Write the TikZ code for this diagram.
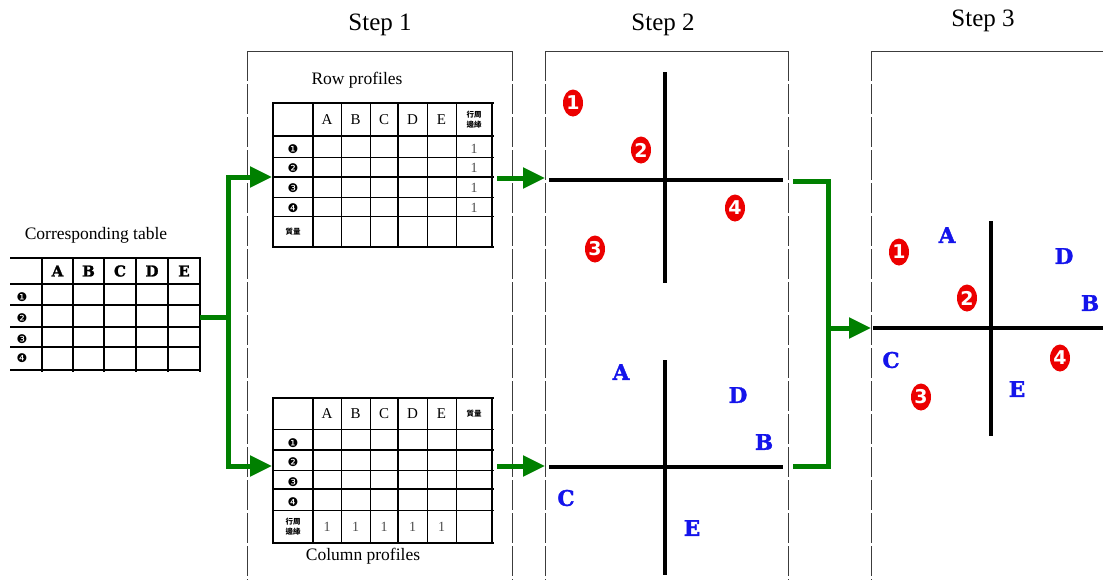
\documentclass[tikz,border=0pt]{standalone}
\usepackage{fontspec}
\setmainfont{Liberation Serif}
\newfontfamily\slab{DejaVu Serif}[BoldFeatures={FakeBold=1.6}]
\newfontfamily\djs{DejaVu Sans}
\newfontfamily\cjk{Noto Sans CJK TC}
\usetikzlibrary{arrows.meta,shapes.geometric}
\definecolor{garrowc}{RGB}{0,128,0}
\definecolor{mred}{RGB}{236,0,0}
\definecolor{lblue}{RGB}{20,20,235}
\definecolor{boxgray}{RGB}{60,60,60}
\begin{document}
\begin{tikzpicture}[x=1pt,y=-1pt,
  steplabel/.style={font=\fontsize{25}{25}\selectfont, inner sep=0},
  tlabel/.style={font=\fontsize{17.5}{18}\selectfont, inner sep=0},
  dbox/.style={draw=boxgray, line width=0.9, dash pattern=on 30pt off 3pt},
  dtop/.style={draw=boxgray, line width=0.9},
  thin/.style={line width=1},
  thick/.style={line width=2.6},
  ctlet/.style={font=\slab\bfseries\fontsize{15}{15}\selectfont, inner sep=0},
  tlet/.style={font=\fontsize{15}{15}\selectfont, inner sep=0},
  one/.style={font=\fontsize{14}{14}\selectfont, text=black!70, inner sep=0},
  rowlab/.style={font=\djs\fontsize{12}{12}\selectfont, inner sep=0},
  cjklab/.style={font=\cjk\bfseries\fontsize{7.5}{10}\selectfont, inner sep=0, align=center},
  rmark/.style={ellipse, fill=mred, text=white, font=\djs\bfseries\fontsize{19}{19}\selectfont, inner sep=0, minimum width=20, minimum height=27},
  bmark/.style={font=\slab\bfseries\fontsize{21.5}{21.5}\selectfont, text=lblue, inner sep=0},
  axisline/.style={line width=3.2, black},
  gline/.style={draw=garrowc, line width=5},
  garrow/.style={draw=garrowc, line width=5, -{Triangle[length=22pt,width=20pt]}}
]
\useasboundingbox (0,0) rectangle (1103,579);

% ---------- step labels ----------
\node[steplabel] (s1) at (380,25) {Step 1};
\node[steplabel] (s2) at (663,25) {Step 2};
\node[steplabel] (s3) at (983,21) {Step 3};

% ---------- dashed boxes ----------
\draw[dtop] (247,51) -- (512,51);
\draw[dbox] (247,51) -- (247,590);
\draw[dbox] (512,51) -- (512,590);
\draw[dtop] (545,51) -- (788,51);
\draw[dbox] (545,51) -- (545,590);
\draw[dbox] (788,51) -- (788,590);
\draw[dtop] (871,51) -- (1110,51);
\draw[dbox] (871,51) -- (871,590);

% ---------- corresponding table ----------
\node[tlabel] (ctl) at (96,235) {Corresponding table};
\node[inner sep=0, minimum width=190, minimum height=112] (ct) at (105,314) {};
\draw[line width=2.2] (10,258) -- (201,258);
\draw[line width=1.6] (10,284) -- (201,284);
\draw[line width=1.4] (10,305) -- (201,305);
\draw[line width=2.4] (10,327) -- (201,327);
\draw[line width=2.4] (10,347) -- (201,347);
\draw[line width=2.4] (10,370) -- (201,370);
\foreach \x in {42,73,104,136,168} \draw[line width=1.3] (\x,257) -- (\x,372);
\draw[line width=2.4] (200,257) -- (200,372);
\foreach \l/\x in {A/57.5,B/88.5,C/120,D/152,E/184}
  \node[ctlet] at (\x,271) {\l};
\node[rowlab] at (22,297) {❶};
\node[rowlab] at (22,318) {❷};
\node[rowlab] at (22,339) {❸};
\node[rowlab] at (22,358) {❹};

% ---------- row profiles table ----------
\node[tlabel] (rpl) at (357,80) {Row profiles};
\node[inner sep=0, minimum width=219, minimum height=144] (rp) at (382.5,175) {};
\foreach \y in {157,197,216} \draw[thin] (272,\y) -- (494,\y);
\foreach \y in {136,177} \draw[line width=2.2] (272,\y) -- (494,\y);
\foreach \y in {103,247} \draw[thick] (272,\y) -- (494,\y);
\foreach \x in {341,370,427,456} \draw[thin] (\x,102) -- (\x,248);
\draw[line width=2] (313,102) -- (313,248);
\draw[line width=2.4] (398,102) -- (398,248);
\foreach \x in {273,492} \draw[thick] (\x,102) -- (\x,248);
\foreach \l/\x in {A/327,B/355.5,C/384,D/412.5,E/441.5}
  \node[tlet] at (\x,120) {\l};
\node[cjklab] at (474,120) {行周\\邊緣};
\node[rowlab] at (293,149) {❶};
\node[rowlab] at (293,168) {❷};
\node[rowlab] at (293,188) {❸};
\node[rowlab] at (293,208) {❹};
\foreach \y in {149,168,188,208} \node[one] at (474,\y) {1};
\node[cjklab] at (293,232) {質量};

% ---------- column profiles table ----------
\node[tlabel] (cpl) at (363,556) {Column profiles};
\node[inner sep=0, minimum width=219, minimum height=145] (cp) at (382.5,470.5) {};
\foreach \y in {429,470,510} \draw[thin] (272,\y) -- (494,\y);
\foreach \y in {450,489} \draw[line width=2.2] (272,\y) -- (494,\y);
\foreach \y in {398,543} \draw[thick] (272,\y) -- (494,\y);
\foreach \x in {341,370,427,456} \draw[thin] (\x,397) -- (\x,544);
\draw[line width=2] (313,397) -- (313,544);
\draw[line width=2.4] (398,397) -- (398,544);
\foreach \x in {273,492} \draw[thick] (\x,397) -- (\x,544);
\foreach \l/\x in {A/327,B/355.5,C/384,D/412.5,E/441.5}
  \node[tlet] at (\x,414) {\l};
\node[cjklab] at (474,414) {質量};
\node[rowlab] at (293,443) {❶};
\node[rowlab] at (293,462) {❷};
\node[rowlab] at (293,482) {❸};
\node[rowlab] at (293,502) {❹};
\node[cjklab] at (293,527) {行周\\邊緣};
\foreach \x in {327,355.5,384,412.5,441.5} \node[one] at (\x,527) {1};

% ---------- step 2 maps ----------
\draw[axisline] (549,180) -- (783,180);
\draw[axisline] (665,72) -- (665,283);
\node[rmark] (r1) at (573,103) {1};
\node[rmark] (r2) at (641,150) {2};
\node[rmark] (r4) at (735,208) {4};
\node[rmark] (r3) at (595,249) {3};

\draw[axisline] (549,467) -- (783,467);
\draw[axisline] (665,360) -- (665,575);
\node[bmark] (ca) at (621,372) {A};
\node[bmark] (cd) at (738,395) {D};
\node[bmark] (cb) at (764,442) {B};
\node[bmark] (cc) at (566,498) {C};
\node[bmark] (ce) at (692,528) {E};

% ---------- step 3 map ----------
\draw[axisline] (873,328) -- (1105,328);
\draw[axisline] (991,221) -- (991,436);
\node[rmark] (t1) at (899,252) {1};
\node[rmark] (t2) at (967,298) {2};
\node[rmark] (t4) at (1060,358) {4};
\node[rmark] (t3) at (921,397) {3};
\node[bmark] (ta) at (947,235) {A};
\node[bmark] (td) at (1064,256) {D};
\node[bmark] (tb) at (1090,303) {B};
\node[bmark] (tc) at (891,360) {C};
\node[bmark] (te) at (1017,389) {E};

% ---------- green connectors ----------
\coordinate (ctout) at (200,317);
\coordinate (fork) at (228,317);
\coordinate (rpin) at (272,177);
\coordinate (cpin) at (272,466);
\draw[gline] (ctout) -- (fork);
\draw[garrow] (fork) |- (rpin);
\draw[garrow] (fork) |- (cpin);

\coordinate (rpout) at (497,178);
\coordinate (m1in) at (545,178);
\coordinate (cpout) at (497,466);
\coordinate (m2in) at (545,466);
\draw[garrow] (rpout) -- (m1in);
\draw[garrow] (cpout) -- (m2in);

\coordinate (m1out) at (793,181);
\coordinate (m2out) at (793,466);
\coordinate (join) at (828,328);
\coordinate (m3in) at (871,328);
\draw[gline] (m1out) -| (join) |- (m2out);
\draw[garrow] (join) -- (m3in);
\end{tikzpicture}
\end{document}
